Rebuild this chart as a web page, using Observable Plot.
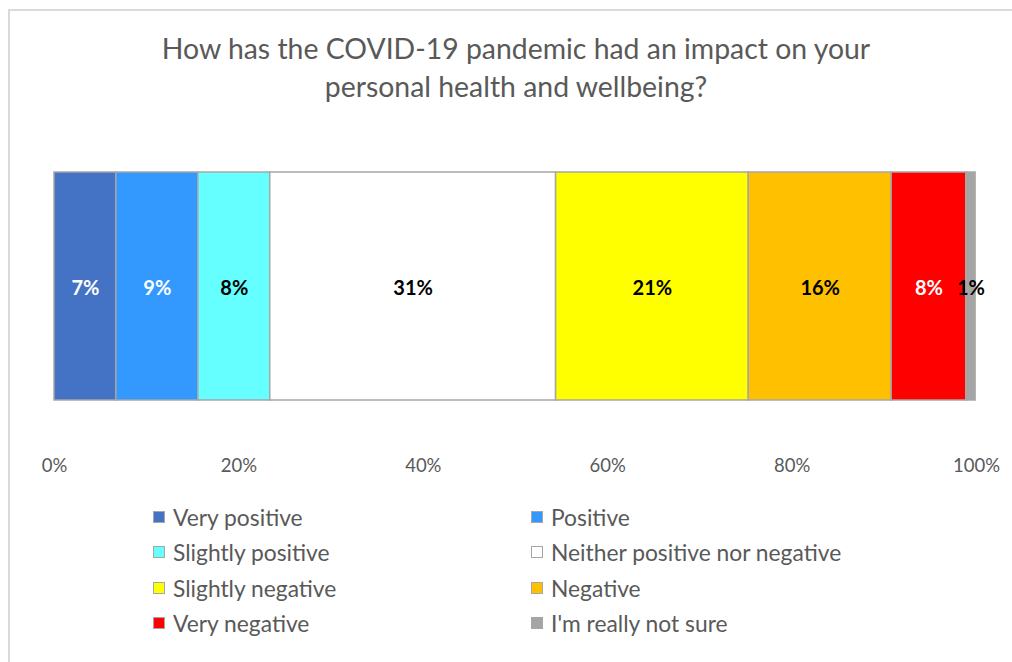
<!DOCTYPE html>
<html>
<head>
<meta charset="utf-8">
<script src="https://cdn.jsdelivr.net/npm/d3@7"></script>
<script src="https://cdn.jsdelivr.net/npm/@observablehq/plot@0.6"></script>
<style>
  html, body { margin: 0; padding: 0; background: #fff; overflow: hidden; }
  body { width: 1012px; height: 662px; position: relative; font-family: Lato, "Open Sans", sans-serif; }
  #frame { position: absolute; left: 8px; top: 9px; width: 1100px; height: 700px; border-left: 2px solid #d9d9d9; border-top: 2px solid #d9d9d9; }
  #title { position: absolute; left: 9px; top: 29px; width: 1014px; text-align: center; color: #595959; font-size: 28.4px; line-height: 38px; }
  #chart { position: absolute; left: 0; top: 0; }
  .lg { position: absolute; display: flex; align-items: center; color: #595959; font-size: 22.8px; white-space: nowrap; }
  .sw { width: 10px; height: 10px; border: 1.5px solid #a6a6a6; margin-right: 8px; }
</style>
</head>
<body>
<div id="frame"></div>
<div id="title">How has the COVID-19 pandemic had an impact on your<br>personal health and wellbeing?</div>
<div id="chart"></div>
<div id="legend"></div>
<script>
const categories = ["Very positive", "Positive", "Slightly positive", "Neither positive nor negative", "Slightly negative", "Negative", "Very negative", "I'm really not sure"];
const values = [6.7, 8.9, 7.8, 31.0, 20.9, 15.5, 8.1, 1.0];
const colors = ["#4472c4", "#3399ff", "#66ffff", "#ffffff", "#ffff00", "#ffc000", "#ff0000", "#a5a5a5"];
const labelColors = ["#ffffff", "#ffffff", "#000000", "#000000", "#000000", "#000000", "#ffffff", "#000000"];
const tickValues = [0, 20, 40, 60, 80, 100];

const ends = d3.cumsum(values);
const data = categories.map((c, i) => ({
  category: c,
  value: values[i],
  x1: ends[i] - values[i],
  x2: ends[i],
  label: Math.round(values[i]) + "%",
  labelColor: labelColors[i]
}));

const chart = Plot.plot({
  width: 1012,
  height: 520,
  marginLeft: 54,
  marginRight: 36,
  marginTop: 172,
  marginBottom: 120,
  style: { fontFamily: "Lato, 'Open Sans', sans-serif", background: "transparent", overflow: "visible" },
  x: { domain: [0, 100] },
  color: { domain: categories, range: colors },
  marks: [
    Plot.barX(data, { x1: "x1", x2: "x2", fill: "category", stroke: "#a6a6a6", strokeWidth: 1.5 }),
    Plot.text(data, { x: d => (d.x1 + d.x2) / 2, text: "label", fill: "labelColor", fontWeight: "bold", fontSize: 20, frameAnchor: "middle", dy: 2 }),
    Plot.axisX({ ticks: tickValues, tickFormat: d => d + "%", tickSize: 0, tickPadding: 58, fontSize: 18.5, color: "#595959", label: null })
  ]
});
document.getElementById("chart").appendChild(chart);

const legend = document.getElementById("legend");
categories.forEach((c, i) => {
  const col = i % 2, row = Math.floor(i / 2);
  const item = document.createElement("div");
  item.className = "lg";
  item.style.left = (col ? 531 : 153) + "px";
  item.style.top = (518 + row * 35.3 - 15) + "px";
  item.style.height = "28px";
  const sw = document.createElement("div");
  sw.className = "sw";
  sw.style.background = colors[i];
  const tx = document.createElement("span");
  tx.textContent = c;
  item.appendChild(sw);
  item.appendChild(tx);
  legend.appendChild(item);
});
</script>
</body>
</html>
